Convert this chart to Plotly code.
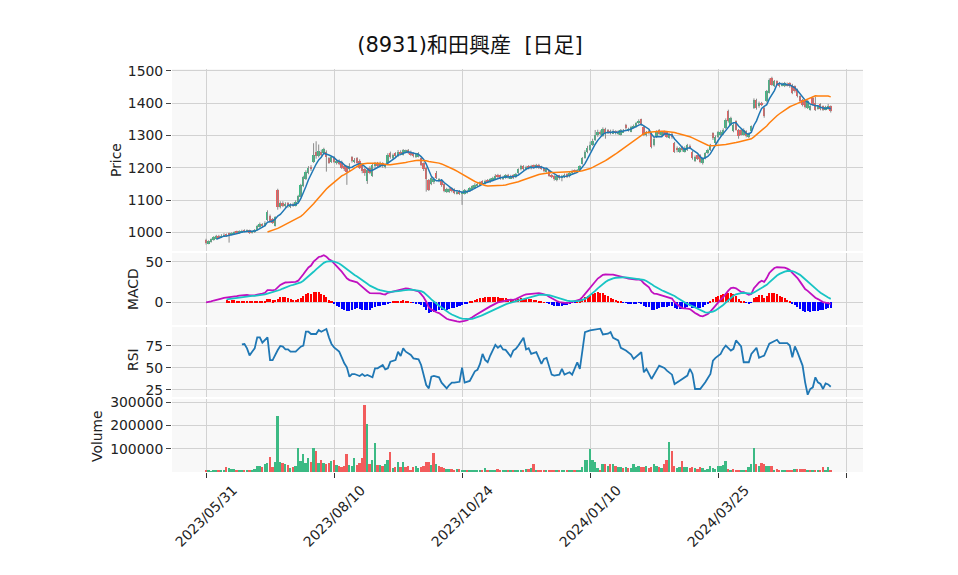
import plotly.graph_objects as go
from plotly.subplots import make_subplots
import pandas as pd

title_text = "(8931)和田興産  [日足]"
tick_pos = [0, 50, 100, 150, 200, 250]
tick_text = ["2023/05/31", "2023/08/10", "2023/10/24", "2024/01/10", "2024/03/25", ""]

opens = [976,966,970,976,982,990,984,988,994,996,
992,996,1002,998,1000,1007,1003,1006,998,1000,
1008,1016,1026,1020,1038,1052,1040,1020,1131,1078,
1092,1080,1090,1078,1088,1082,1094,1110,1142,1165,
1183,1202,1219,1250,1236,1250,1245,1250,1229,1219,
1232,1215,1222,1219,1205,1205,1195,1232,1218,1230,
1222,1208,1195,1160,1200,1175,1205,1214,1205,1214,
1203,1214,1245,1230,1245,1236,1250,1240,1250,1255,
1250,1245,1232,1234,1229,1214,1200,1162,1150,1155,
1185,1158,1162,1150,1125,1125,1136,1134,1120,1128,
1120,1120,1124,1128,1132,1138,1142,1145,1158,1150,
1162,1155,1160,1165,1178,1176,1165,1168,1178,1168,
1178,1170,1183,1195,1205,1195,1205,1198,1208,1200,
1210,1204,1198,1188,1192,1178,1175,1162,1176,1168,
1172,1180,1174,1184,1192,1188,1192,1212,1230,1248,
1255,1272,1286,1300,1312,1298,1320,1317,1315,1306,
1312,1306,1302,1310,1333,1315,1312,1325,1327,1338,
1350,1327,1300,1315,1307,1270,1295,1318,1300,1312,
1310,1295,1305,1276,1262,1250,1265,1250,1255,1268,
1250,1222,1238,1240,1214,1229,1245,1255,1307,1276,
1296,1300,1305,1322,1375,1333,1313,1344,1318,1318,
1303,1313,1295,1313,1385,1411,1390,1400,1385,1406,
1432,1478,1452,1468,1462,1455,1452,1460,1462,1457,
1452,1442,1421,1410,1406,1385,1380,1416,1401,1385,
1398,1390,1382,1383,1390]

closes = [968,972,978,985,988,984,990,993,989,992,
997,1000,998,1003,1005,1004,1006,998,1002,1008,
1020,1025,1018,1030,1064,1033,1030,1046,1077,1090,
1082,1088,1080,1085,1083,1095,1112,1145,1170,1188,
1200,1195,1240,1235,1252,1240,1258,1232,1216,1232,
1218,1220,1212,1200,1195,1188,1205,1220,1225,1215,
1200,1190,1185,1192,1185,1210,1212,1205,1214,1205,
1208,1240,1232,1240,1236,1250,1245,1255,1252,1245,
1240,1236,1242,1245,1210,1195,1165,1131,1168,1165,
1168,1165,1145,1128,1134,1135,1128,1122,1126,1120,
1125,1130,1128,1136,1142,1148,1150,1155,1152,1160,
1158,1165,1168,1175,1172,1166,1172,1176,1170,1174,
1168,1180,1195,1205,1195,1203,1198,1205,1200,1208,
1200,1198,1190,1195,1175,1172,1165,1175,1168,1175,
1178,1172,1185,1190,1188,1192,1205,1229,1250,1262,
1270,1282,1300,1310,1305,1320,1305,1310,1307,1315,
1308,1312,1317,1315,1322,1320,1327,1330,1338,1345,
1333,1302,1310,1307,1265,1290,1312,1305,1310,1305,
1296,1300,1295,1250,1255,1260,1255,1262,1270,1262,
1229,1234,1228,1219,1229,1245,1255,1270,1291,1296,
1310,1312,1318,1349,1344,1354,1334,1318,1297,1303,
1318,1297,1305,1328,1411,1385,1401,1395,1360,1437,
1473,1457,1468,1457,1452,1460,1462,1455,1452,1432,
1437,1421,1406,1395,1388,1406,1390,1395,1380,1390,
1382,1380,1388,1390,1375]

highs = [980,975,981,988,992,992,994,997,996,999,
1000,1003,1005,1006,1008,1009,1009,1008,1005,1010,
1023,1030,1028,1034,1068,1055,1044,1050,1135,1096,
1096,1093,1094,1090,1092,1099,1116,1150,1175,1192,
1205,1208,1276,1282,1272,1256,1262,1254,1233,1236,
1236,1226,1226,1222,1210,1208,1214,1236,1230,1233,
1226,1212,1199,1196,1205,1215,1218,1218,1219,1217,
1212,1245,1250,1244,1248,1255,1254,1258,1256,1258,
1253,1248,1246,1248,1232,1216,1203,1165,1172,1170,
1190,1168,1165,1152,1138,1139,1139,1136,1130,1131,
1128,1134,1132,1140,1146,1152,1154,1158,1161,1163,
1165,1168,1172,1180,1181,1179,1175,1180,1181,1178,
1180,1184,1198,1209,1208,1206,1208,1209,1210,1212,
1212,1206,1200,1198,1194,1180,1177,1178,1178,1178,
1182,1183,1188,1194,1195,1196,1208,1233,1254,1268,
1281,1290,1317,1318,1316,1325,1324,1320,1318,1319,
1316,1316,1320,1320,1336,1324,1330,1334,1342,1350,
1352,1330,1314,1318,1310,1294,1316,1320,1314,1315,
1313,1306,1308,1280,1266,1264,1268,1266,1274,1272,
1252,1238,1241,1242,1232,1248,1259,1274,1310,1300,
1314,1316,1322,1353,1380,1358,1338,1347,1320,1320,
1322,1316,1309,1331,1415,1414,1405,1404,1388,1441,
1477,1482,1472,1471,1466,1464,1466,1464,1465,1460,
1455,1445,1424,1413,1408,1410,1394,1420,1420,1394,
1400,1393,1392,1398,1393]

lows = [962,963,968,974,980,981,982,986,986,968,
990,994,995,996,998,1000,1001,995,996,998,
1006,1014,1014,1018,1035,1030,1026,1018,1070,1074,
1078,1076,1076,1075,1079,1080,1090,1108,1140,1162,
1180,1190,1215,1228,1232,1236,1240,1188,1212,1215,
1214,1210,1208,1196,1190,1147,1190,1216,1214,1210,
1196,1183,1175,1150,1180,1172,1200,1200,1202,1200,
1198,1212,1228,1226,1232,1233,1240,1238,1246,1242,
1236,1232,1230,1232,1205,1190,1126,1128,1146,1150,
1165,1155,1141,1124,1122,1122,1124,1118,1117,1116,
1085,1117,1120,1125,1130,1135,1140,1143,1148,1148,
1154,1153,1158,1163,1168,1163,1162,1166,1166,1165,
1165,1168,1180,1192,1192,1192,1195,1195,1197,1198,
1196,1194,1186,1185,1172,1168,1160,1158,1163,1158,
1168,1168,1170,1180,1184,1185,1190,1210,1228,1245,
1252,1268,1283,1296,1300,1296,1290,1305,1303,1304,
1303,1302,1300,1308,1318,1312,1310,1322,1325,1335,
1330,1298,1297,1303,1260,1266,1292,1302,1298,1301,
1292,1290,1290,1246,1248,1246,1250,1247,1252,1258,
1225,1218,1224,1214,1210,1226,1242,1252,1286,1274,
1292,1297,1302,1320,1340,1330,1310,1315,1290,1300,
1300,1294,1292,1310,1382,1380,1386,1391,1355,1403,
1430,1454,1450,1454,1449,1452,1450,1452,1448,1428,
1433,1418,1402,1390,1384,1382,1377,1392,1376,1380,
1378,1376,1378,1380,1371]

volumes = [8000,4000,3000,6000,9000,7000,4000,5000,22000,15000,
14000,12000,10000,8000,7000,9000,6000,10000,8000,12000,
25000,26000,20000,36000,38000,65000,20000,44000,240000,44000,
40000,36000,30000,16000,22000,24000,105000,48000,77000,40000,
58000,42000,105000,88000,40000,51000,38000,36000,40000,48000,
50000,30000,26000,20000,24000,77000,30000,26000,58000,30000,
40000,58000,287000,208000,36000,50000,126000,30000,30000,25000,
36000,50000,87000,16000,22000,44000,22000,44000,22000,25000,
9000,22000,25000,16000,22000,25000,42000,44000,30000,83000,
36000,26000,20000,16000,12000,14000,12000,10000,14000,12000,
10000,8000,10000,8000,6000,9000,10000,7000,8000,15000,
8000,10000,9000,7000,11000,8000,9000,6000,8000,10000,
9000,8000,10000,9000,8000,11000,12000,16000,32000,10000,
9000,6000,10000,9000,7000,8000,9000,8000,10000,7000,
9000,8000,10000,8000,6000,9000,10000,20000,53000,53000,
97000,50000,43000,17000,10000,35000,32000,24000,35000,32000,
24000,22000,20000,17000,20000,16000,17000,32000,20000,24000,
22000,20000,24000,18000,20000,32000,24000,20000,18000,32000,
53000,128000,89000,24000,17000,20000,46000,20000,20000,17000,
20000,17000,14000,20000,16000,10000,14000,24000,17000,14000,
24000,24000,28000,46000,14000,10000,14000,10000,10000,10000,
10000,10000,20000,32000,101000,32000,24000,38000,32000,24000,
24000,24000,10000,14000,10000,9000,8000,10000,10000,10000,
12000,12000,14000,14000,14000,10000,10000,10000,6000,10000,
6000,20000,6000,20000,8000]

rsi_day = [14,15,16,17,18,19,20,21,22,23,
24,25,26,28,29,30,31,32,33,35,
37,38,39,40,41,43,44,45,46,47,
48,49,50,52,53,54,55,56,57,58,
60,61,62,63,65,66,67,69,70,71,
72,74,75,76,77,78,80,81,83,84,
85,86,87,88,89,91,92,94,95,96,
97,99,100,101,103,105,106,107,108,109,
110,111,113,114,115,116,117,119,120,121,
122,124,125,126,127,129,131,132,133,135,
136,138,139,140,142,143,145,146,147,148,
150,153,154,155,157,158,159,161,162,164,
166,167,169,170,171,172,174,176,177,179,
180,182,183,185,186,188,189,190,191,193,
195,197,198,199,201,202,203,205,206,207,
209,210,212,213,215,216,218,219,220,223,
224,227,228,229,230,231,233,234,235,236,
237,238,239,240,241,242,243,244]
rsi_val = [76.5,76.9,72,64,68.2,72,84.5,84.5,78.4,81.5,
84.5,58.7,58.7,70.1,74.7,73.9,70.9,70.9,68.2,68.2,
73.9,75,90.9,90.9,88.3,88.3,92.8,90.9,92.8,94,
84.5,77,73.1,68.2,61.8,55,50.4,39.8,42.8,42.8,
40.6,42.8,40.6,41.7,39.1,49.3,49.3,53.1,48.1,49.3,
56.9,58.7,68.2,63.3,72,68.2,64.4,60.6,59.5,53.1,
41.7,30.3,26.5,39.8,40.6,39.1,33,26.5,30.3,33,
33,34,50,33,35,45.9,47.5,54.3,65.7,58.9,
56.2,63.8,76,72.6,75.2,70.7,70.3,62.7,69.5,71.4,
75.2,84,70.7,72.2,65.7,67.6,54.3,60,61.2,42.1,
41,42.1,48.6,42.1,44.8,42.1,56.2,48.6,69.5,90.5,
92.4,93.5,94.3,87.8,88.6,90.5,84,81,72.6,69.5,
65,60,65.7,67.6,44.8,48.6,37.2,46.7,52.4,49.7,
46.7,42.1,31.5,35.3,37.2,41,48.6,42.9,25.8,25.8,
33.4,42.9,58.1,61.2,65.7,71.4,75.2,69.5,71.4,81,
74.1,56.2,56.2,65.7,72.6,61.2,63.8,71.4,77.2,81.7,
77.9,77.9,75.2,61.9,74.1,67.6,52.4,33.4,19.3,25.8,
27.7,39.1,33.4,31.5,25.8,32.2,31,28.4]

UP = "#3cba84"
DOWN = "#f25c5c"
FONT = "DejaVu Sans, Noto Sans CJK JP, sans-serif"
TFONT = "DejaVu Sans, Noto Sans CJK JP, sans-serif"
FS = 13.9

n = len(closes)
idx = list(range(n))
c = pd.Series(closes, dtype=float)
ma5 = c.rolling(5).mean()
ma25 = c.rolling(25).mean()
ema12 = c.ewm(span=12, adjust=False).mean()
ema26 = c.ewm(span=26, adjust=False).mean()
macd = ema12 - ema26
signal = macd.ewm(span=9, adjust=False).mean()
hist = macd - signal
signal.iloc[:8] = None
hist.iloc[:8] = None

fig = make_subplots(rows=4, cols=1, shared_xaxes=True)

# wicks
wx, wy = [], []
for i in idx:
    wx += [i, i, None]
    wy += [lows[i], highs[i], None]
fig.add_trace(go.Scatter(x=wx, y=wy, mode="lines", line=dict(color="#8a8a8a", width=1),
                         hoverinfo="skip", showlegend=False), row=1, col=1)
# bodies
body_base = [min(o, cl) for o, cl in zip(opens, closes)]
body_h = [max(abs(cl - o), 1.2) for o, cl in zip(opens, closes)]
body_col = [UP if cl >= o else DOWN for o, cl in zip(opens, closes)]
fig.add_trace(go.Bar(x=idx, y=body_h, base=body_base, width=0.72,
                     marker=dict(color=body_col, line=dict(width=0)), showlegend=False), row=1, col=1)
fig.add_trace(go.Scatter(x=idx, y=ma5, mode="lines", line=dict(color="#1f77b4", width=1.5),
                         showlegend=False), row=1, col=1)
fig.add_trace(go.Scatter(x=idx, y=ma25, mode="lines", line=dict(color="#ff7f0e", width=1.5),
                         showlegend=False), row=1, col=1)

# MACD
hist_col = ["#ff0000" if (h == h and h >= 0) else "#0000ff" for h in hist]
fig.add_trace(go.Bar(x=idx, y=hist, width=0.8, marker=dict(color=hist_col, line=dict(width=0)),
                     showlegend=False), row=2, col=1)
fig.add_trace(go.Scatter(x=idx, y=macd, mode="lines", line=dict(color="#c010c0", width=1.8),
                         showlegend=False), row=2, col=1)
fig.add_trace(go.Scatter(x=idx, y=signal, mode="lines", line=dict(color="#18c4c4", width=1.8),
                         showlegend=False), row=2, col=1)

# RSI
fig.add_trace(go.Scatter(x=rsi_day, y=rsi_val, mode="lines", line=dict(color="#1f77b4", width=1.8),
                         showlegend=False), row=3, col=1)

# Volume
vol_col = [DOWN] + [UP if closes[i] >= closes[i - 1] else DOWN for i in range(1, n)]
fig.add_trace(go.Bar(x=idx, y=volumes, width=0.72, marker=dict(color=vol_col, line=dict(width=0)),
                     showlegend=False), row=4, col=1)

xr = [-13.3, 256.6]
grid = "#d2d2d2"
tickfont = dict(family=FONT, size=FS, color="#222")
for r in range(1, 5):
    fig.update_xaxes(range=xr, tickvals=tick_pos, showgrid=True,
                     gridcolor=grid, gridwidth=1, zeroline=False, showline=False,
                     showticklabels=False, ticks=("outside" if r == 4 else ""),
                     ticklen=5, tickcolor="#333", row=r, col=1)

yax = dict(showgrid=True, gridcolor=grid, gridwidth=1, zeroline=False, showline=False,
           ticks="outside", ticklen=5, tickcolor="#444", tickfont=tickfont)
fig.update_yaxes(domain=[0.5484, 1.0], range=[942, 1506],
                 tickvals=[1000, 1100, 1200, 1300, 1400, 1500], row=1, col=1, **yax)
fig.update_yaxes(domain=[0.3648, 0.5434], range=[-28.0, 60.7], tickvals=[0, 50], row=2, col=1, **yax)
fig.update_yaxes(domain=[0.1861, 0.3598], range=[16.7, 96.25], tickvals=[25, 50, 75], row=3, col=1, **yax)
fig.update_yaxes(domain=[0.0, 0.1811], range=[-400, 314200],
                 tickvals=[100000, 200000, 300000], tickformat="d", row=4, col=1, **yax)

# page body has an 8px margin, so positions are given 8px up/left of the target
OFF = 8
W = 691.0
H = 403.0
def ax_title(text, px, yc):
    return dict(text=text, xref="paper", yref="paper", x=(px - 172) / W, y=yc,
                xanchor="center", yanchor="middle", textangle=-90, showarrow=False,
                font=dict(family=FONT, size=FS, color="#222"))

annotations = [
    ax_title("Price", 116, (472 - 160) / H),
    ax_title("MACD", 133, (472 - 289) / H),
    ax_title("RSI", 133, (472 - 360) / H),
    ax_title("Volume", 97, (472 - 436) / H),
]
# rotated date labels centred on their ticks
for tv, tt in zip(tick_pos, tick_text):
    if tt:
        annotations.append(dict(text=tt, xref="x4", yref="paper", x=tv, y=(472 - 516) / H,
                                xanchor="center", yanchor="middle", textangle=-45,
                                showarrow=False, font=dict(family=FONT, size=FS, color="#222")))

fig.update_layout(
    width=958, height=575,
    margin=dict(l=172 - OFF, r=958 - 863 + OFF, t=69 - OFF, b=575 - 472 + OFF),
    paper_bgcolor="white", plot_bgcolor="#f8f8f8",
    bargap=0, barmode="overlay",
    showlegend=False,
    title=dict(text=title_text, x=(470 - OFF) / 958, xanchor="center",
               y=1 - (45 - OFF) / 575, yanchor="middle",
               xref="container", yref="container",
               font=dict(family=TFONT, size=21, color="#111")),
    annotations=annotations,
)

fig.write_html("out.html")
